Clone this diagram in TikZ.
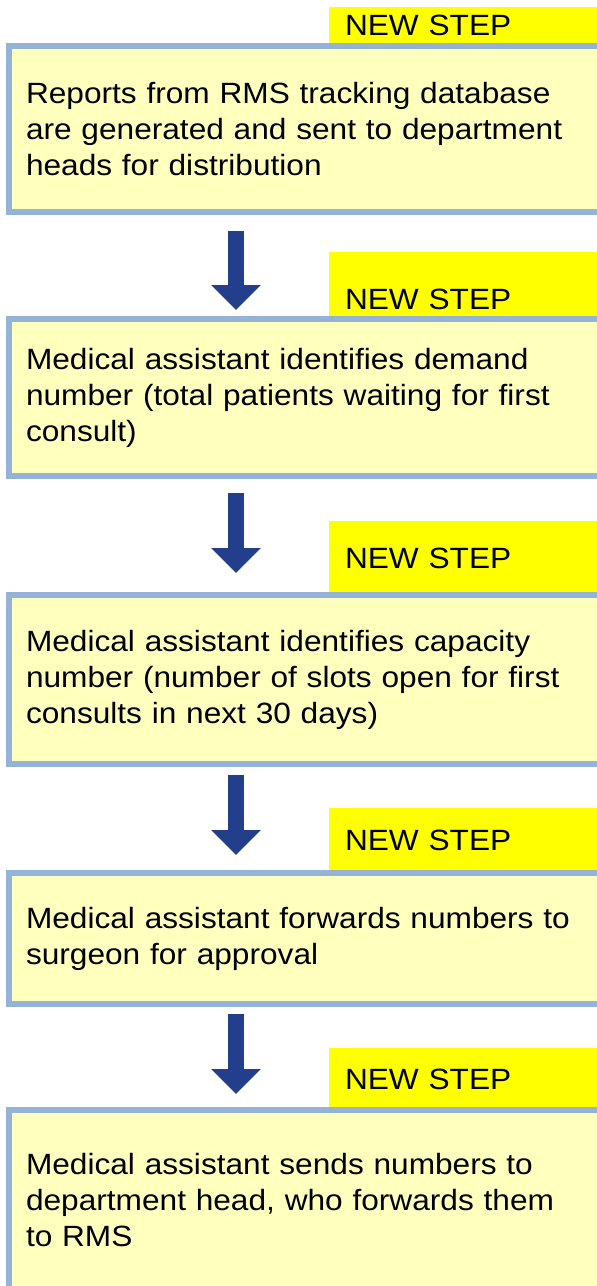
\documentclass[tikz,border=0pt]{standalone}
\usepackage{fontspec}
\setmainfont{Liberation Sans}[FakeStretch=1.08]
\usetikzlibrary{arrows.meta, positioning}

\definecolor{boxfill}{HTML}{FFFFBE}
\definecolor{boxline}{HTML}{95B3D7}
\definecolor{tagfill}{HTML}{FFFF00}
\definecolor{arrowblue}{HTML}{233E8B}

\begin{document}
\begin{tikzpicture}[x=1pt, y=-1pt]
\tikzset{
stepbox/.style={draw=boxline, fill=boxfill, line width=6pt, outer sep=0pt, anchor=north west,
  inner xsep=17pt, inner ysep=0pt, text width=580pt, align=left,
  font=\fontsize{29.3}{36}\selectfont},
newtag/.style={fill=tagfill, outer sep=0pt, inner xsep=16pt, inner ysep=0pt,
  text width=260pt, align=left, font=\fontsize{29.3}{36}\selectfont},
down/.style={draw=arrowblue, line width=16pt, -{Triangle[width=48pt,length=25pt]}}
}

	% page
	\useasboundingbox (0,0) rectangle (597,1286);
	\clip (0,0) rectangle (597,1286);

	% steps
	\node[stepbox, minimum height=166pt] at (9,46) (box1) {Reports from RMS tracking database\\are generated and sent to department\\heads for distribution};
	\node[stepbox, minimum height=157pt] at (9,319) (box2) {Medical assistant identifies demand\\number (total patients waiting for first\\consult)};
	\node[stepbox, minimum height=169pt] at (9,595) (box3) {Medical assistant identifies capacity\\number (number of slots open for first\\consults in next 30 days)};
	\node[stepbox, minimum height=131pt] at (9,873) (box4) {Medical assistant forwards numbers to\\surgeon for approval};
	\node[stepbox, minimum height=180pt] at (9,1110) (box5) {Medical assistant sends numbers to\\department head, who forwards them\\to RMS};

	% tags
	\node[newtag, above right=3pt and 320pt of box1.north west, text height=28pt, text depth=8pt] (tag1) {NEW STEP};
	\node[newtag, above right=3pt and 320pt of box2.north west, text height=57pt, text depth=7pt] (tag2) {NEW STEP};
	\node[newtag, above right=3pt and 320pt of box3.north west, text height=47pt, text depth=24pt] (tag3) {NEW STEP};
	\node[newtag, above right=3pt and 320pt of box4.north west, text height=42pt, text depth=20pt] (tag4) {NEW STEP};
	\node[newtag, above right=3pt and 320pt of box5.north west, text height=41pt, text depth=18pt] (tag5) {NEW STEP};

	% arrows
	\coordinate (axis) at (236,0);
	\draw[down, shorten <=19pt, shorten >=9pt] (axis |- box1.south) -- (axis |- box2.north);
	\draw[down, shorten <=17pt, shorten >=22pt] (axis |- box2.south) -- (axis |- box3.north);
	\draw[down, shorten <=11pt, shorten >=18pt] (axis |- box3.south) -- (axis |- box4.north);
	\draw[down, shorten <=10pt, shorten >=16pt] (axis |- box4.south) -- (axis |- box5.north);

\end{tikzpicture}
\end{document}
